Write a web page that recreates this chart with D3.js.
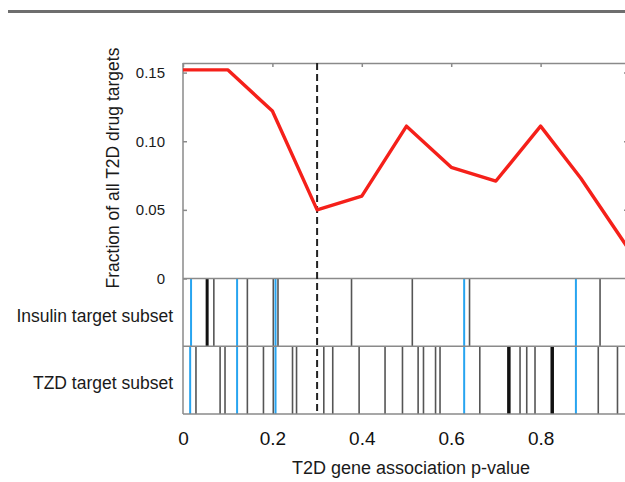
<!DOCTYPE html>
<html>
<head>
<meta charset="utf-8">
<script src="https://cdn.jsdelivr.net/npm/d3@7"></script>
<style>
  body { margin: 0; background: #fff; }
  svg { display: block; font-family: "Liberation Sans", Arial, sans-serif; }
</style>
</head>
<body>
<div id="vis"></div>
<script>
const FRAME_HEIGHT = 482;
const FRAME_WIDTH = 625;

// data
const P_VALUES = [0, 0.1, 0.2, 0.3, 0.4, 0.5, 0.6, 0.7, 0.8, 0.89, 1.0];
const FRACTIONS = [0.152, 0.152, 0.122, 0.050, 0.060, 0.111, 0.081, 0.071, 0.111, 0.073, 0.020];
const Y_TICKS = [0, 0.05, 0.10, 0.15];
const X_TICKS = [0, 0.2, 0.4, 0.6, 0.8];
const THRESHOLD = 0.3;

const SUBSETS = ["Insulin target subset", "TZD target subset"];
// rug positions (p-values) for each subset
const INSULIN_GRAY = [0.069, 0.144, 0.202, 0.2125, 0.377, 0.513, 0.641, 0.933];
const INSULIN_BLACK = [0.054];
const INSULIN_BLUE = [0.018, 0.121, 0.207, 0.629, 0.879];
const TZD_GRAY = [0.029, 0.083, 0.094, 0.144, 0.180, 0.202, 0.245, 0.254, 0.315, 0.335,
                  0.394, 0.452, 0.491, 0.526, 0.538, 0.565, 0.575, 0.664, 0.754, 0.769,
                  0.7875, 0.929, 0.972];
const TZD_BLACK = [0.729, 0.826];
const TZD_BLUE = [0.016, 0.121, 0.207, 0.629, 0.879];

const PLOT = {left: 183, right: 630, top: 63, zero: 278.5, bottom: 414};

const FRAME = d3.select("#vis")
  .append("svg")
    .attr("width", FRAME_WIDTH)
    .attr("height", FRAME_HEIGHT);

// grey rule across the top of the page
FRAME.append("rect")
  .attr("x", 8)
  .attr("y", 10)
  .attr("width", FRAME_WIDTH - 8)
  .attr("height", 3)
  .attr("fill", "#6e6e6e");

const X_SCALE = d3.scaleLinear()
  .domain([0, 1])
  .range([PLOT.left, PLOT.right]);

const Y_SCALE = d3.scaleLinear()
  .domain([0, 0.157])
  .range([PLOT.zero, PLOT.top]);

const BAND_SCALE = d3.scaleBand()
  .domain(SUBSETS)
  .range([PLOT.zero, PLOT.bottom]);

//
// RUG BANDS
//
function drawRug(subset, values, color, width) {
  FRAME.append("g")
    .selectAll("line")
    .data(values)
    .enter()
    .append("line")
      .attr("x1", d => X_SCALE(d))
      .attr("x2", d => X_SCALE(d))
      .attr("y1", BAND_SCALE(subset))
      .attr("y2", BAND_SCALE(subset) + BAND_SCALE.bandwidth())
      .attr("stroke", color)
      .attr("stroke-width", width);
}

drawRug(SUBSETS[0], INSULIN_GRAY, "#555", 1.6);
drawRug(SUBSETS[0], INSULIN_BLACK, "#111", 3);
drawRug(SUBSETS[0], INSULIN_BLUE, "#27a4f0", 2);
drawRug(SUBSETS[1], TZD_GRAY, "#555", 1.6);
drawRug(SUBSETS[1], TZD_BLACK, "#111", 3.5);
drawRug(SUBSETS[1], TZD_BLUE, "#27a4f0", 2);

// band borders
FRAME.append("g")
  .selectAll("line")
  .data(SUBSETS)
  .enter()
  .append("line")
    .attr("x1", PLOT.left)
    .attr("x2", PLOT.right)
    .attr("y1", d => BAND_SCALE(d) + BAND_SCALE.bandwidth())
    .attr("y2", d => BAND_SCALE(d) + BAND_SCALE.bandwidth())
    .attr("stroke", "#8a8a8a")
    .attr("stroke-width", 1.5);

// band labels
FRAME.append("g")
  .selectAll("text")
  .data(SUBSETS)
  .enter()
  .append("text")
    .attr("x", 173)
    .attr("y", d => BAND_SCALE(d) + BAND_SCALE.bandwidth() / 2 + 3)
    .attr("dy", "0.35em")
    .attr("text-anchor", "end")
    .attr("font-size", "17.5px")
    .attr("fill", "#1a1a1a")
    .text(d => d);

//
// LINE PLOT
//

// top border of the plot with inward ticks
FRAME.append("g")
  .attr("transform", "translate(0," + PLOT.top + ")")
  .call(d3.axisTop(X_SCALE).tickValues([0.2, 0.4, 0.6, 0.8]).tickSize(-4).tickFormat(""))
  .call(g => g.selectAll("path, line").attr("stroke", "#8a8a8a").attr("stroke-width", 1.5));

// bottom of the line plot / top of insulin band
FRAME.append("line")
  .attr("x1", PLOT.left)
  .attr("x2", PLOT.right)
  .attr("y1", PLOT.zero)
  .attr("y2", PLOT.zero)
  .attr("stroke", "#8a8a8a")
  .attr("stroke-width", 1.5);

// y-axis
FRAME.append("g")
  .attr("transform", "translate(" + PLOT.left + ",0)")
  .call(d3.axisLeft(Y_SCALE)
    .tickValues(Y_TICKS)
    .tickSize(-4)
    .tickPadding(18)
    .tickFormat(d => d === 0 ? "0" : d3.format(".2f")(d)))
  .call(g => g.select(".domain").remove())
  .call(g => g.selectAll("line").attr("stroke", "#8a8a8a").attr("stroke-width", 1.5))
  .call(g => g.selectAll("text")
    .attr("font-size", "15px")
    .attr("fill", "#1a1a1a")
    .attr("font-family", "'Liberation Sans', Arial, sans-serif"));

// right side ticks
FRAME.append("g")
  .attr("transform", "translate(" + PLOT.right + ",0)")
  .call(d3.axisRight(Y_SCALE).tickValues(Y_TICKS.slice(1)).tickSize(-6).tickFormat(""))
  .call(g => g.select(".domain").remove())
  .call(g => g.selectAll("line").attr("stroke", "#8a8a8a").attr("stroke-width", 1.5));

// left border running through both bands
FRAME.append("line")
  .attr("x1", PLOT.left)
  .attr("x2", PLOT.left)
  .attr("y1", PLOT.top)
  .attr("y2", PLOT.bottom)
  .attr("stroke", "#8a8a8a")
  .attr("stroke-width", 1.5);

// dashed threshold line
FRAME.append("line")
  .attr("x1", X_SCALE(THRESHOLD))
  .attr("x2", X_SCALE(THRESHOLD))
  .attr("y1", PLOT.top)
  .attr("y2", PLOT.bottom)
  .attr("stroke", "#222")
  .attr("stroke-width", 2)
  .attr("stroke-dasharray", "7,4");

// the red line
const LINE = d3.line()
  .x((d, i) => X_SCALE(P_VALUES[i]))
  .y(d => Y_SCALE(d));

FRAME.append("path")
  .datum(FRACTIONS)
  .attr("d", LINE)
  .attr("fill", "none")
  .attr("stroke", "#f5201a")
  .attr("stroke-width", 3.4)
  .attr("stroke-linejoin", "round");

// x-axis labels
FRAME.append("g")
  .attr("transform", "translate(0," + 428 + ")")
  .call(d3.axisBottom(X_SCALE).tickValues(X_TICKS).tickSize(0).tickFormat(d => d === 0 ? "0" : d3.format(".1f")(d)))
  .call(g => g.select(".domain").remove())
  .call(g => g.selectAll("text")
    .attr("font-size", "19px")
    .attr("fill", "#111")
    .attr("font-family", "'Liberation Sans', Arial, sans-serif"));

// x-axis title
FRAME.append("text")
  .attr("x", 411)
  .attr("y", 474)
  .attr("text-anchor", "middle")
  .attr("font-size", "18px")
  .attr("fill", "#1a1a1a")
  .text("T2D gene association p-value");

// y-axis title
FRAME.append("text")
  .attr("transform", "translate(119,168) rotate(-90)")
  .attr("text-anchor", "middle")
  .attr("font-size", "17.5px")
  .attr("fill", "#1a1a1a")
  .text("Fraction of all T2D drug targets");
</script>
</body>
</html>
